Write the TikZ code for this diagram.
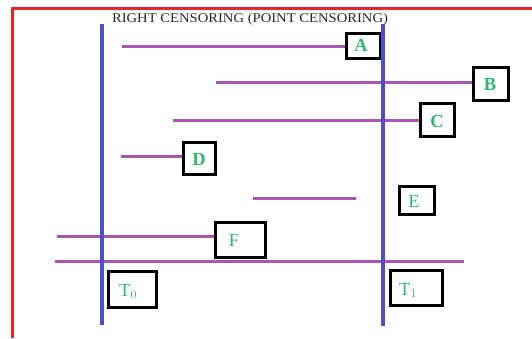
\documentclass[tikz,border=0pt]{standalone}
\usepackage{fontspec}
\setmainfont{Liberation Serif}
\definecolor{frame}{RGB}{232,37,42}
\definecolor{axis}{RGB}{75,80,210}
\definecolor{span}{RGB}{170,85,180}
\definecolor{tag}{RGB}{45,185,105}
\tikzset{
  spanline/.style={draw=span, line width=3pt},
  axisline/.style={draw=axis, line width=3.2pt},
  tagbox/.style={draw=black, fill=white, line width=3pt, inner sep=0pt},
  tagtext/.style={text=tag, inner sep=0pt, font=\fontsize{18.5}{18.5}\selectfont},
  tagbold/.style={tagtext, font=\fontsize{18.5}{18.5}\selectfont\bfseries},
}
\begin{document}
\begin{tikzpicture}[x=1pt, y=-1pt]
\useasboundingbox (0,0) rectangle (532,338);
% outer frame
\draw[frame, line width=3pt] (12,338) -- (12,8.5) -- (532,8.5);
\node[anchor=base, inner sep=0pt, text=black!85, xscale=1.1, font=\fontsize{13.3}{13.3}\selectfont] (title) at (250,22) {RIGHT CENSORING (POINT CENSORING)};

% free ends of the spans
\coordinate (a0) at (122,46);
\coordinate (b0) at (216,82);
\coordinate (c0) at (173,120);
\coordinate (d0) at (121,156);
\coordinate (e0) at (253,198);
\coordinate (e1) at (356,198);
\coordinate (f0) at (57,236);
\coordinate (g0) at (55,261);
\coordinate (g1) at (464,261);

% spans
\draw[spanline] (a0) -- (a0 -| 345,0);
\draw[spanline] (b0) -- (b0 -| 472,0);
\draw[spanline] (c0) -- (c0 -| 419,0);
\draw[spanline] (d0) -- (d0 -| 182,0);
\draw[spanline] (e0) -- (e1);
\draw[spanline] (f0) -- (f0 -| 214,0);
\draw[spanline] (g0) -- (g1);

% boxes
\node[tagbox, minimum width=34pt, minimum height=25pt] (A) at (363.5,46) {};
\node[tagbox, minimum width=35pt, minimum height=33pt] (B) at (491,84) {};
\node[tagbox, minimum width=34pt, minimum height=33pt] (C) at (437.5,120) {};
\node[tagbox, minimum width=32pt, minimum height=32pt] (D) at (199.5,158.5) {};
\node[tagbox, minimum width=35pt, minimum height=28pt] (E) at (417,200.5) {};
\node[tagbox, minimum width=50pt, minimum height=35pt] (F) at (240.5,240) {};
\node[tagbox, minimum width=48pt, minimum height=36pt] (T0) at (132.5,289.5) {};
\node[tagbox, minimum width=52pt, minimum height=35pt] (T1) at (416.5,288) {};

% box labels
\node[tagbold] (Atx) at (361,45) {A};
\node[tagbold] (Btx) at (490,84) {B};
\node[tagbold] (Ctx) at (437,121) {C};
\node[tagbold] (Dtx) at (199,159) {D};
\node[tagtext] (Etx) at (414,201) {E};
\node[tagtext] (Ftx) at (234,240) {F};
\node[tagtext, anchor=base west] (T0tx) at (119,296) {T$_0$};
\node[tagtext, anchor=base west] (T1tx) at (399,295) {T$_1$};

% time axes
\coordinate (L0) at (102,24);
\coordinate (L1) at (102,325);
\coordinate (R0) at (383,24);
\coordinate (R1) at (383,326);
\draw[axisline] (L0) -- (L1);
\draw[axisline] (R0) -- (R1);
\end{tikzpicture}
\end{document}
